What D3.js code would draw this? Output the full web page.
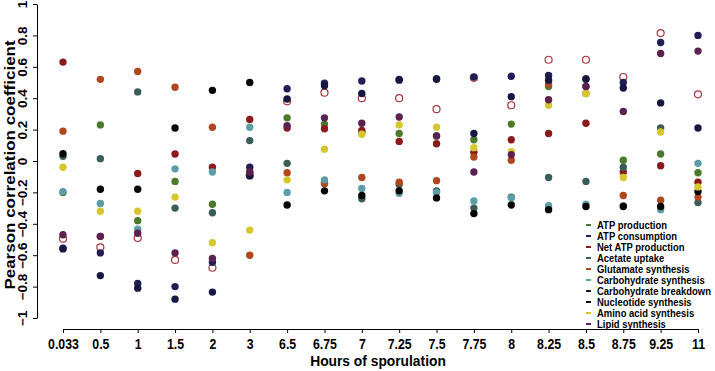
<!DOCTYPE html>
<html>
<head>
<meta charset="utf-8">
<script src="https://cdn.jsdelivr.net/npm/d3@7"></script>
<style>
  html, body { margin: 0; padding: 0; background: #fff; }
  svg { display: block; font-family: "Liberation Sans", Arial, Helvetica, sans-serif; }
</style>
</head>
<body>
<svg id="chart" width="715" height="371"></svg>
<script>
const categories = ["0.033","0.5","1","1.5","2","3","6.5","6.75","7","7.25","7.5","7.75","8","8.25","8.5","8.75","9.25","11"];
const yTicks = [-1,-0.8,-0.6,-0.4,-0.2,0,0.2,0.4,0.6,0.8,1];

const openSeries       = [-0.495,-0.55,-0.49,-0.63,-0.68,-0.09,0.38,0.435,0.40,0.40,0.33,0.53,0.355,0.645,0.645,0.535,0.815,0.425];
const atpProduction    = [-0.20,0.23,-0.38,-0.13,-0.275,-0.07,0.275,0.235,0.18,0.175,0.16,0.135,0.235,0.475,0.43,0.005,0.045,-0.075];
const atpConsumption   = [-0.555,-0.585,-0.78,-0.80,-0.645,-0.04,0.46,0.495,0.51,0.52,0.525,0.535,0.54,0.545,0.525,0.50,0.755,0.80];
const netAtp           = [0.63,-0.48,-0.08,0.045,-0.04,0.265,0.21,0.205,0.195,0.125,0.11,0.055,0.135,0.175,0.24,-0.07,-0.03,-0.135];
const acetateUptake    = [0.03,0.015,0.44,-0.30,-0.33,0.13,-0.015,-0.14,-0.24,-0.15,-0.19,-0.30,-0.23,-0.105,-0.13,-0.04,0.21,-0.265];
const glutamateSynth   = [0.19,0.52,0.57,0.47,0.215,-0.60,-0.075,-0.145,-0.105,-0.135,-0.125,0.025,0.005,0.49,0.475,-0.22,-0.25,-0.23];
const carbSynth        = [-0.195,-0.27,-0.435,-0.05,-0.07,0.215,-0.20,-0.12,-0.175,-0.205,-0.20,-0.255,-0.235,-0.285,-0.275,-0.285,-0.31,-0.015];
const carbBreakdown    = [-0.56,-0.73,-0.81,-0.88,-0.835,-0.095,0.395,0.48,0.43,0.515,0.52,0.175,0.41,0.515,0.52,0.465,0.37,0.21];
const nucleotideSynth  = [0.046,-0.18,-0.18,0.21,0.45,0.50,-0.28,-0.19,-0.22,-0.19,-0.235,-0.335,-0.28,-0.31,-0.29,-0.29,-0.29,-0.195];
const aminoAcidSynth   = [-0.04,-0.32,-0.32,-0.23,-0.52,-0.44,-0.12,0.075,0.17,0.23,0.215,0.085,0.06,0.355,0.43,-0.105,0.185,-0.165];
const lipidSynth       = [-0.47,-0.48,-0.46,-0.585,-0.62,-0.07,0.225,0.275,0.24,0.28,0.16,-0.07,0.04,0.39,0.475,0.315,0.685,0.70];

const series = [
  {name: "(unlabeled)", values: openSeries, color: "#a8343c", open: true, legend: false},
  {name: "ATP production", values: atpProduction, color: "#4b7a2b"},
  {name: "ATP consumption", values: atpConsumption, color: "#211d55"},
  {name: "Net ATP production", values: netAtp, color: "#8a1a1c"},
  {name: "Acetate uptake", values: acetateUptake, color: "#3b5d59"},
  {name: "Glutamate synthesis", values: glutamateSynth, color: "#b0471f"},
  {name: "Carbohydrate synthesis", values: carbSynth, color: "#5c9ea8"},
  {name: "Carbohydrate breakdown", values: carbBreakdown, color: "#16183f"},
  {name: "Nucleotide synthesis", values: nucleotideSynth, color: "#050505"},
  {name: "Amino acid synthesis", values: aminoAcidSynth, color: "#d7c72e"},
  {name: "Lipid synthesis", values: lipidSynth, color: "#5b2250"}
];

const svg = d3.select("#chart");
const x = d3.scalePoint().domain(categories).range([63, 698]);
const y = d3.scaleLinear().domain([-1, 1]).range([318, 4]);

// X axis
const xAxis = svg.append("g")
  .attr("transform", "translate(0,329)")
  .call(d3.axisBottom(x).tickSize(4).tickSizeOuter(0).tickPadding(6));
xAxis.selectAll("text").attr("font-size", 14).attr("font-weight", "bold").attr("fill", "#000")
  .attr("font-family", "Liberation Sans, Arial, sans-serif")
  .attr("transform", "scale(0.88,1)");
xAxis.selectAll("path, line").attr("stroke", "#000").attr("stroke-width", 1);

// Y axis
const yAxis = svg.append("g")
  .attr("transform", "translate(37,0)")
  .call(d3.axisLeft(y).tickValues(yTicks).tickSize(4).tickSizeOuter(0)
    .tickFormat(d => d === 0 ? "0" : String(d).replace("-", "\u2212")));
yAxis.selectAll("path, line").attr("stroke", "#000").attr("stroke-width", 1);
yAxis.selectAll(".tick text")
  .attr("x", null).attr("dy", null)
  .attr("transform", "translate(-10,0) scale(0.9,1) rotate(-90)")
  .attr("text-anchor", "middle")
  .attr("font-size", 13.5).attr("font-weight", "bold").attr("fill", "#000")
  .attr("font-family", "Liberation Sans, Arial, sans-serif");

// Axis titles
svg.append("text")
  .attr("transform", "translate(378,366) scale(0.92,1)")
  .attr("text-anchor", "middle")
  .attr("font-size", 15).attr("font-weight", "bold")
  .text("Hours of sporulation");
svg.append("text")
  .attr("transform", "translate(15,165) scale(0.85,1) rotate(-90)")
  .attr("text-anchor", "middle")
  .attr("font-size", 17).attr("font-weight", "bold")
  .text("Pearson correlation coefficient");

// Points
series.forEach(s => {
  svg.append("g").selectAll("circle")
    .data(s.values.map((v, i) => ({cat: categories[i], v})))
    .join("circle")
    .attr("cx", d => x(d.cat))
    .attr("cy", d => y(d.v))
    .attr("r", s.open ? 3.5 : 3.7)
    .attr("fill", s.open ? "none" : s.color)
    .attr("stroke", s.open ? s.color : "none")
    .attr("stroke-width", s.open ? 1.2 : 0);
});

// Legend
const legendItems = series.filter(s => s.legend !== false);
const lg = svg.append("g").attr("transform", "translate(586,225)");
legendItems.forEach((s, i) => {
  const row = lg.append("g").attr("transform", `translate(0,${i * 11})`);
  row.append("rect").attr("x", 0).attr("y", -1).attr("width", 5).attr("height", 2).attr("fill", s.color);
  row.append("text").attr("transform", "translate(11,4) scale(0.86,1)")
    .attr("font-size", 11).attr("font-weight", "bold").attr("fill", "#000")
    .text(s.name);
});
</script>
</body>
</html>
